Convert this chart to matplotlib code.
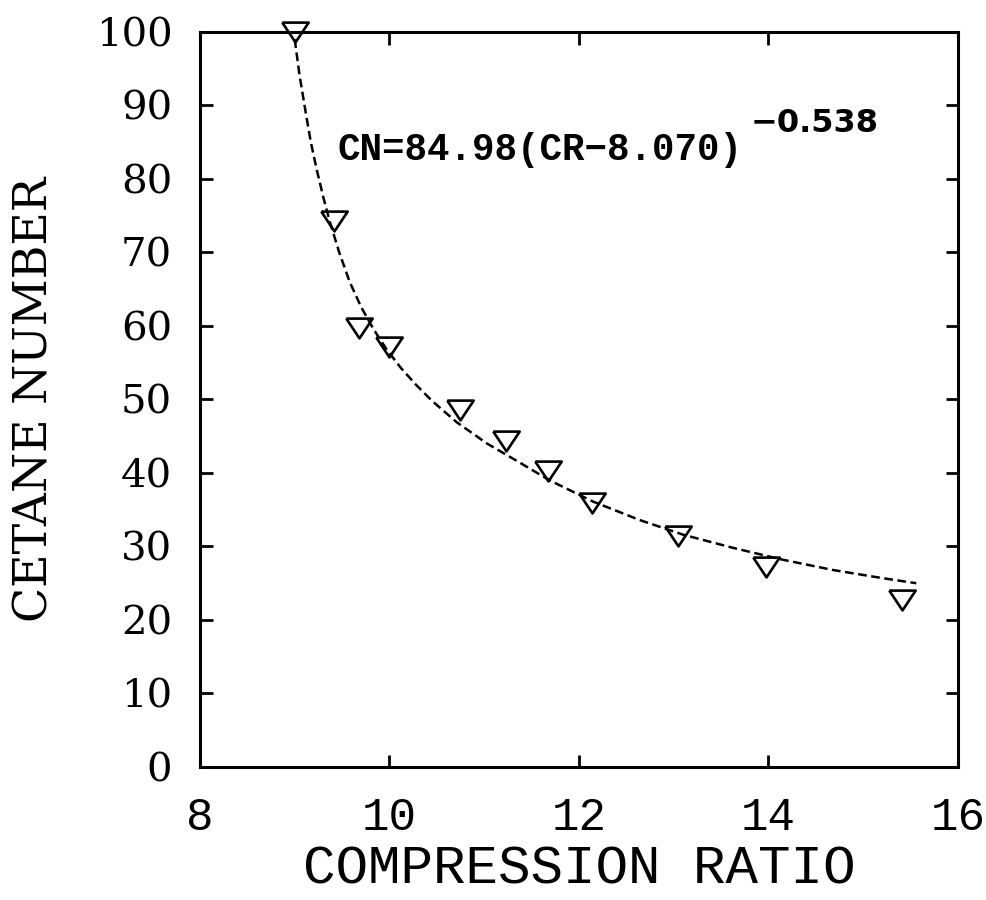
import matplotlib
matplotlib.use("Agg")
import matplotlib.pyplot as plt

# measured points (compression ratio vs cetane number)
cr = [9.00, 9.41, 9.68, 9.99, 10.74, 11.23, 11.67, 12.14, 13.05, 13.97, 15.41]
cn = [100.0, 74.3, 59.7, 57.1, 48.6, 44.4, 40.3, 35.9, 31.4, 27.2, 22.7]

# fitted curve
fit_cr = [9.00, 9.05, 9.11, 9.17, 9.23, 9.30, 9.37, 9.47, 9.58, 9.70, 9.83, 9.97,
          10.12, 10.28, 10.45, 10.71, 11.03, 11.35, 11.69, 12.15, 12.64, 13.10,
          13.63, 14.15, 14.68, 15.20, 15.56]
fit_cn = [99.0, 94.2, 89.5, 85.0, 81.4, 77.6, 74.2, 70.0, 66.0, 62.6, 59.6, 56.8,
          54.3, 52.0, 49.8, 46.9, 44.0, 41.6, 39.0, 36.1, 33.6, 31.6,
          29.8, 28.2, 26.8, 25.7, 25.0]

xticks = [8, 10, 12, 14, 16]
yticks = list(range(0, 101, 10))

fig = plt.figure(figsize=(9.87, 9.0), dpi=100)
ax = fig.add_axes([0.2026, 0.1478, 0.768, 0.8167])

ax.plot(fit_cr, fit_cn, color="black", lw=1.8, linestyle=(0, (3.5, 1.8)))
tri = [(-1, 0.75), (1, 0.75), (0, -0.75), (-1, 0.75)]
ax.plot(cr, cn, linestyle="none", marker=tri, markersize=19, clip_on=False,
        markerfacecolor="none", markeredgecolor="black", markeredgewidth=1.9,
        zorder=3)

ax.set_xlim(8, 16)
ax.set_ylim(0, 100)
ax.set_xticks(xticks)
ax.set_yticks(yticks)

for s in ax.spines.values():
    s.set_linewidth(2.2)
ax.tick_params(direction="in", length=9, width=2, top=True, right=True)
ax.tick_params(axis="x", pad=21)
ax.tick_params(axis="y", pad=20)

for lab in ax.get_xticklabels():
    lab.set_family(["Liberation Mono", "DejaVu Sans"])
    lab.set_fontsize(33)
for lab in ax.get_yticklabels():
    lab.set_family(["DejaVu Serif"])
    lab.set_fontsize(29)

ax.set_xlabel("COMPRESSION RATIO", family=["Liberation Mono", "DejaVu Sans"],
              fontsize=39, labelpad=3)
ax.set_ylabel("CETANE NUMBER", family=["DejaVu Serif"], fontsize=33)
ax.yaxis.set_label_coords(-0.188, 0.5)

ax.text(0.181, 0.839, "CN=84.98(CR\u22128.070)", transform=ax.transAxes,
        family=["Liberation Mono", "DejaVu Sans"], fontweight="bold",
        fontsize=27, ha="left", va="center")
ax.text(0.727, 0.875, "\u22120.538", transform=ax.transAxes,
        family=["DejaVu Sans"], fontweight="bold",
        fontsize=23, ha="left", va="center")

fig.savefig("out.png", dpi=100)
